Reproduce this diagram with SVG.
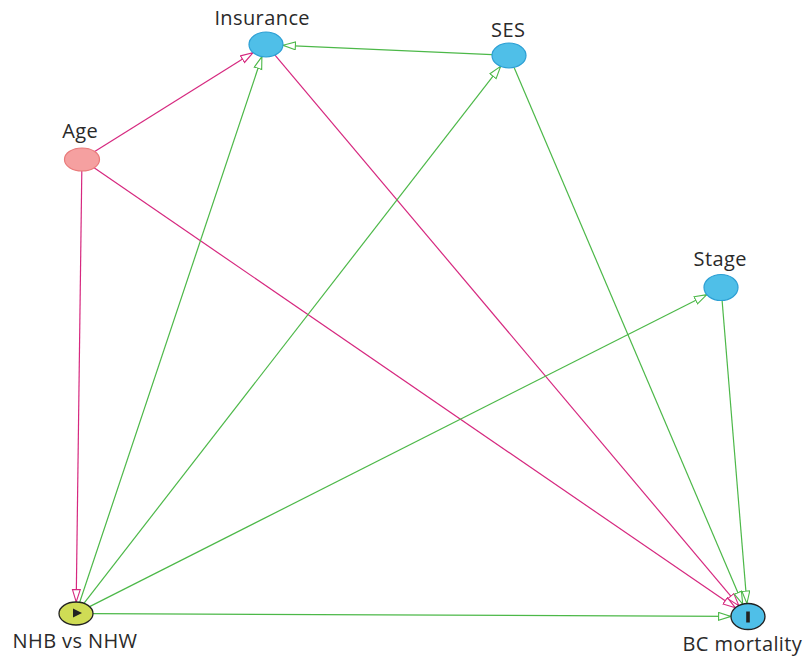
<svg xmlns="http://www.w3.org/2000/svg" width="807" height="658" viewBox="0 0 807 658">
  <style>
    .lbl { font-family: "Open Sans", Lato, "Liberation Sans", sans-serif; font-size: 20px; letter-spacing: 0.4px; fill: #2a2a2a; text-anchor: middle; }
    .e { fill: none; stroke-width: 1.2; }
    .m { stroke: #d6287f; marker-end: url(#arrM); }
    .g { stroke: #4cb848; marker-end: url(#arrG); }
    .adj { fill: #4fbfe8; stroke: #2c9fd4; stroke-width: 1.2; }
  </style>
  <defs>
    <marker id="arrM" markerUnits="userSpaceOnUse" markerWidth="15" markerHeight="11" refX="13" refY="4.5" orient="auto">
      <path d="M0.6,0.6 L13,4.5 L0.6,8.4 z" fill="#fff" stroke="#d6287f" stroke-width="1.1"/>
    </marker>
    <marker id="arrG" markerUnits="userSpaceOnUse" markerWidth="15" markerHeight="11" refX="13" refY="4.5" orient="auto">
      <path d="M0.6,0.6 L13,4.5 L0.6,8.4 z" fill="#fff" stroke="#4cb848" stroke-width="1.1"/>
    </marker>
  </defs>
  <rect width="807" height="658" fill="#fff"/>

  <g id="edges">
    <line class="e m" x1="94.7" y1="151.6" x2="253" y2="52.6"/>
    <line class="e m" x1="81.8" y1="171" x2="76.2" y2="602"/>
    <line class="e m" x1="94.1" y1="167.8" x2="735.4" y2="607.8"/>
    <line class="e m" x1="275" y1="55.1" x2="738.8" y2="605.6"/>
    <line class="e g" x1="492" y1="54.7" x2="283" y2="45.3"/>
    <line class="e g" x1="514.1" y1="67.4" x2="742.7" y2="604.1"/>
    <line class="e g" x1="79.7" y1="602.3" x2="261.9" y2="56.6"/>
    <line class="e g" x1="83.9" y1="603.3" x2="500.6" y2="66.4"/>
    <line class="e g" x1="89.6" y1="606.6" x2="706.8" y2="294.7"/>
    <line class="e g" x1="93" y1="613.6" x2="731" y2="616.4"/>
    <line class="e g" x1="722.1" y1="300.5" x2="746.9" y2="603.5"/>
  </g>

  <g id="insurance">
    <ellipse class="adj" cx="266" cy="44.5" rx="17" ry="12.5"/>
    <text class="lbl" x="262.2" y="25">Insurance</text>
  </g>
  <g id="ses">
    <ellipse class="adj" cx="509" cy="55.5" rx="17" ry="12.5"/>
    <text class="lbl" x="508.2" y="36.5">SES</text>
  </g>
  <g id="age">
    <ellipse cx="82" cy="159.5" rx="17.5" ry="11.5" fill="#f5a0a0" stroke="#e97a7a" stroke-width="1.2"/>
    <text class="lbl" x="80.2" y="137.5">Age</text>
  </g>
  <g id="stage">
    <ellipse class="adj" cx="721" cy="287.5" rx="17" ry="13"/>
    <text class="lbl" x="720.2" y="266">Stage</text>
  </g>
  <g id="nhb">
    <ellipse cx="76" cy="613.5" rx="17" ry="11.5" fill="#cfdc55" stroke="#222" stroke-width="1.3"/>
    <path d="M73,608.5 L82,613 L73,617.5 z" fill="#222"/>
    <text class="lbl" x="75" y="648">NHB vs NHW</text>
  </g>
  <g id="bc-mortality">
    <ellipse cx="748" cy="616.5" rx="17" ry="13" fill="#4fbfe8" stroke="#222" stroke-width="1.3"/>
    <rect x="746.2" y="611.5" width="3.6" height="11" fill="#222"/>
    <text class="lbl" x="742.4" y="651">BC mortality</text>
  </g>
</svg>
